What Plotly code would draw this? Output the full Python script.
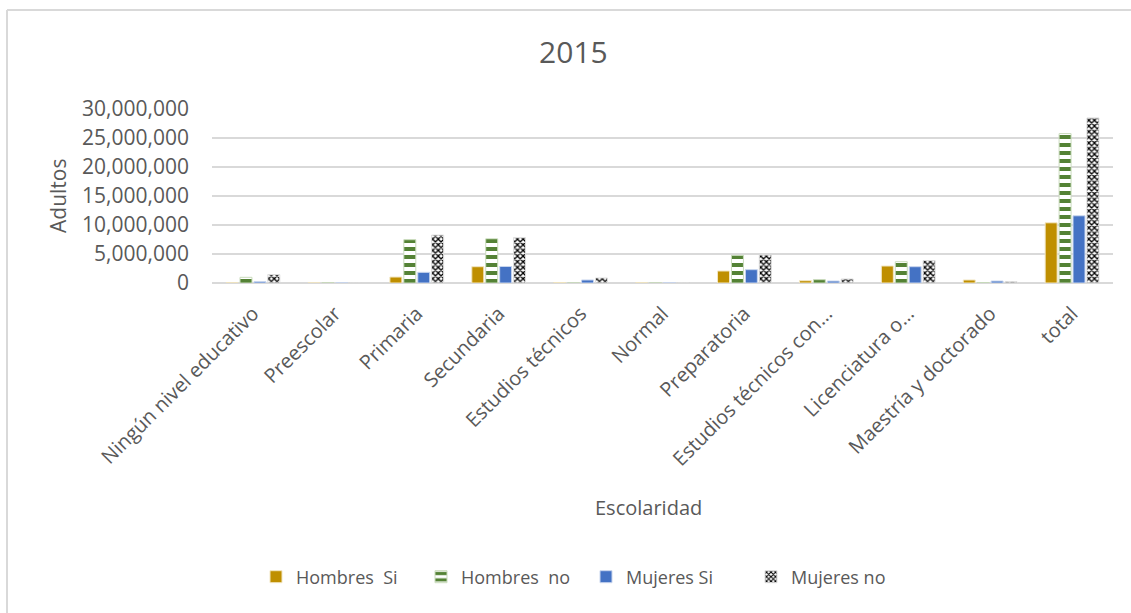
import plotly.graph_objects as go

# Escolaridad categories (as shown on the axis)
categorias = [
    "Ningún nivel educativo", "Preescolar", "Primaria", "Secundaria",
    "Estudios técnicos", "Normal", "Preparatoria", "Estudios técnicos con…",
    "Licenciatura o…", "Maestría y doctorado", "total",
]

# Adult counts per group
hombres_si = [40000, 20000, 1030000, 2810000, 50000, 30000, 2070000, 400000, 2930000, 520000, 10380000]
hombres_no = [980000, 30000, 7460000, 7630000, 20000, 20000, 4760000, 570000, 3670000, 60000, 25760000]
mujeres_si = [230000, 30000, 1840000, 2850000, 520000, 20000, 2300000, 340000, 2810000, 340000, 11590000]
mujeres_no = [1430000, 40000, 8260000, 7800000, 860000, 40000, 4820000, 690000, 3850000, 230000, 28460000]

y_ticks = [0, 5000000, 10000000, 15000000, 20000000, 25000000, 30000000]

FONT = "Open Sans"
GREY = "#595959"
W, H = 1131, 613
ML, MR, MT, MB = 212, 18, 109, 330
PW, PH = W - ML - MR, H - MT - MB


def px_x(x):
    return (x - ML) / PW


def px_y(y):
    return (H - MB - y) / PH


fig = go.Figure()
fig.add_bar(
    name="Hombres  Si", x=categorias, y=hombres_si,
    marker=dict(color="#BF8F00", line=dict(color="#F2E6C2", width=1)),
)
fig.add_bar(
    name="Hombres  no", x=categorias, y=hombres_no,
    marker=dict(
        color="white", line=dict(color="#C9DBBC", width=1),
        pattern=dict(shape="-", fgcolor="#548235", bgcolor="white",
                     size=8, solidity=0.5, fillmode="replace"),
    ),
)
fig.add_bar(
    name="Mujeres Si", x=categorias, y=mujeres_si,
    marker=dict(color="#4472C4", line=dict(color="#C9D6EE", width=1)),
)
fig.add_bar(
    name="Mujeres no", x=categorias, y=mujeres_no,
    marker=dict(
        color="white", line=dict(color="#DDDDDD", width=1),
        pattern=dict(shape="x", fgcolor="black", bgcolor="white",
                     size=4, solidity=0.55, fillmode="replace"),
    ),
)

fig.update_layout(
    width=W, height=H,
    margin=dict(l=ML, r=MR, t=MT, b=MB),
    paper_bgcolor="white", plot_bgcolor="white",
    font=dict(family=FONT, color=GREY, size=18),
    barmode="group", bargap=0.32, bargroupgap=0.14,
    title=dict(text="2015", x=0.507, xanchor="center", y=0.915, yanchor="middle",
               font=dict(family=FONT, size=30, color=GREY)),
    showlegend=True,
    legend=dict(orientation="h", x=px_x(256), xanchor="left",
                y=px_y(577), yanchor="middle",
                font=dict(family=FONT, size=18, color=GREY),
                itemwidth=30, entrywidth=120, entrywidthmode="pixels",
                traceorder="normal"),
)

fig.update_xaxes(
    type="category", tickangle=-45, showgrid=False, showline=False,
    zeroline=False, ticks="", ticklabelstandoff=14,
    tickfont=dict(family=FONT, size=20, color=GREY),
)
fig.update_yaxes(
    range=[0, 30000000], tickvals=y_ticks, tickformat=",d",
    showgrid=True, gridcolor="#D9D9D9", gridwidth=1.5,
    zeroline=True, zerolinecolor="#D9D9D9", zerolinewidth=1.5,
    showline=False, ticks="", ticklabelstandoff=22,
    tickfont=dict(family=FONT, size=21, color=GREY),
)

# Axis titles
fig.add_annotation(text="Adultos", xref="paper", yref="paper",
                   x=px_x(58), y=px_y(196), textangle=-90, showarrow=False,
                   xanchor="center", yanchor="middle",
                   font=dict(family=FONT, size=21, color=GREY))
fig.add_annotation(text="Escolaridad", xref="paper", yref="paper",
                   x=px_x(648), y=px_y(507), showarrow=False,
                   xanchor="center", yanchor="middle",
                   font=dict(family=FONT, size=20, color=GREY))

# Chart frame
fig.add_shape(type="line", xref="paper", yref="paper",
              x0=px_x(7), x1=px_x(W + 5), y0=px_y(10), y1=px_y(10),
              line=dict(color="#D9D9D9", width=2))
fig.add_shape(type="line", xref="paper", yref="paper",
              x0=px_x(7), x1=px_x(7), y0=px_y(10), y1=px_y(H + 5),
              line=dict(color="#D9D9D9", width=2))

fig.write_html("out.html")
